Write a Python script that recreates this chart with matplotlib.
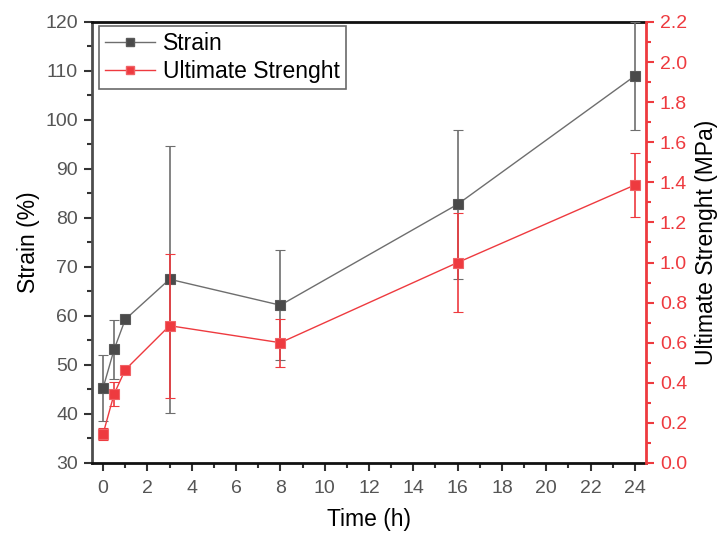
import matplotlib
matplotlib.use("Agg")
import matplotlib.pyplot as plt
from matplotlib.ticker import MultipleLocator, FormatStrFormatter
from matplotlib.lines import Line2D

plt.rcParams['font.family'] = ['Liberation Sans', 'DejaVu Sans']

# Measurements over time
time_h = [0, 0.5, 1, 3, 8, 16, 24]
strain = [45.3, 53.2, 59.3, 67.5, 62.2, 82.8, 109.0]
strain_err = [6.7, 6.0, 0.0, 27.2, 11.2, 15.2, 11.0]
strength = [0.145, 0.345, 0.465, 0.685, 0.60, 1.0, 1.387]
strength_err = [0.03, 0.06, 0.0, 0.36, 0.12, 0.245, 0.16]

x_ticks = list(range(0, 25, 2))

BLACK = '#4a4a4a'
GRAY = '#6e6e6e'
RED = '#ee3a3f'

fig = plt.figure(figsize=(7.21, 5.35), dpi=100)
ax = fig.add_axes([0.1276, 0.1346, 0.7684, 0.8243])
ax2 = ax.twinx()

ax.errorbar(time_h, strain, yerr=strain_err, color=GRAY, lw=1.0,
            ecolor=GRAY, elinewidth=1.2, capsize=3.8, capthick=1.2,
            marker='s', ms=7.5, mfc=BLACK, mec='#5a5a5a', mew=0.8, zorder=3)
ax2.errorbar(time_h, strength, yerr=strength_err, color=RED, lw=1.0,
             ecolor=RED, elinewidth=1.2, capsize=3.8, capthick=1.2,
             marker='s', ms=7.5, mfc=RED, mec='#f06266', mew=0.8, zorder=3)

ax.set_xlim(-0.5, 24.5)
ax.set_ylim(30, 120)
ax2.set_ylim(0, 2.2)

ax.set_xticks(x_ticks)
ax.xaxis.set_minor_locator(MultipleLocator(1))
ax.yaxis.set_major_locator(MultipleLocator(10))
ax.yaxis.set_minor_locator(MultipleLocator(5))
ax2.yaxis.set_major_locator(MultipleLocator(0.2))
ax2.yaxis.set_minor_locator(MultipleLocator(0.1))
ax2.yaxis.set_major_formatter(FormatStrFormatter('%.1f'))

ax.tick_params(axis='both', which='major', direction='out', length=6, width=1.5,
               labelsize=14, labelcolor='#555555', color='#333333', pad=4)
ax.tick_params(axis='x', which='major', pad=6)
ax.tick_params(axis='both', which='minor', direction='out', length=3.5, width=1.5,
               color='#333333')
ax2.tick_params(axis='y', which='major', direction='out', length=6, width=1.5,
                labelsize=14, labelcolor=RED, color=RED, pad=4)
ax2.tick_params(axis='y', which='minor', direction='out', length=3.5, width=1.5,
                color=RED)

ax.spines['left'].set_color('#4d4d4d')
ax.spines['left'].set_linewidth(2)
ax.spines['bottom'].set_color('#111111')
ax.spines['bottom'].set_linewidth(2)
ax.spines['top'].set_color('#111111')
ax.spines['top'].set_linewidth(2)
ax2.spines['right'].set_color(RED)
ax2.spines['right'].set_linewidth(2)
ax2.spines['left'].set_visible(False)
ax2.spines['top'].set_visible(False)
ax2.spines['bottom'].set_visible(False)
ax.spines['right'].set_visible(False)

ax.set_xlabel('Time (h)', fontsize=16.5, labelpad=8)
ax.set_ylabel('Strain (%)', fontsize=16.5, labelpad=4)
ax2.set_ylabel('Ultimate Strenght (MPa)', fontsize=16.5, labelpad=6)

handles = [
    Line2D([], [], color=GRAY, lw=1.0, marker='s', ms=6, mfc=BLACK, mec='#5a5a5a'),
    Line2D([], [], color=RED, lw=1.0, marker='s', ms=6, mfc=RED, mec='#f06266'),
]
leg = ax2.legend(handles, ['Strain', 'Ultimate Strenght'], loc='upper left',
                 bbox_to_anchor=(0.013, 0.99), fontsize=16.5,
                 frameon=True, fancybox=False, edgecolor='#444444',
                 borderaxespad=0.0, handlelength=2.2, handletextpad=0.35,
                 borderpad=0.25, labelspacing=0.22)
leg.get_frame().set_linewidth(1.2)

fig.savefig('out.png', dpi=100)
